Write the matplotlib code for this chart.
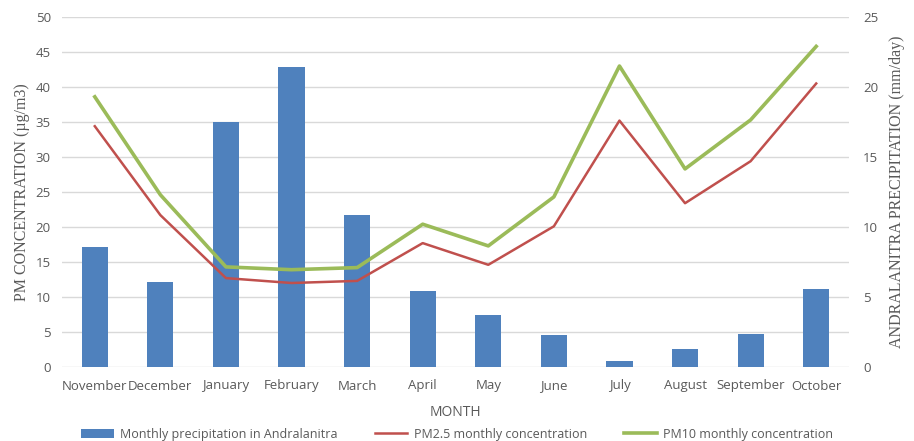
import numpy as np
import matplotlib
matplotlib.use('Agg')
from matplotlib import pyplot as plt

months = ['November', 'December', 'January', 'February', 'March', 'April',
          'May', 'June', 'July', 'August', 'September', 'October']
precip = [8.6, 6.05, 17.5, 21.45, 10.85, 5.4, 3.75, 2.3, 0.45, 1.29, 2.33, 5.55]
pm25 = [34.4, 21.7, 12.7, 12.0, 12.3, 17.7, 14.6, 20.1, 35.2, 23.4, 29.4, 40.5]
pm10 = [38.6, 24.6, 14.3, 13.9, 14.2, 20.4, 17.3, 24.3, 43.0, 28.3, 35.3, 45.8]

grey = '#595959'
sans = 'Open Sans'
serif = 'Liberation Serif'

fig = plt.figure(figsize=(9.14, 4.41), dpi=100)
ax = fig.add_axes([62/914, 1 - 367/441, (849 - 62)/914, 350/441])
ax2 = ax.twinx()

x = np.arange(len(months))

# bars belong to right axis, lines to left axis; draw bars under lines
ax2.bar(x, precip, width=0.4, color='#4F81BD', label='Monthly precipitation in Andralanitra', zorder=1)
ax2.set_ylim(0, 25)
ax2.set_yticks(range(0, 26, 5))

ax.set_zorder(ax2.get_zorder() + 1)
ax.patch.set_visible(False)
l1, = ax.plot(x, pm25, color='#C0504D', lw=1.8, label='PM2.5 monthly concentration')
l2, = ax.plot(x, pm10, color='#9BBB59', lw=2.6, label='PM10 monthly concentration')
ax.set_ylim(0, 50)
ax.set_yticks(range(0, 51, 5))
ax.set_xlim(-0.5, len(months) - 0.5)
ax.set_xticks(x)
ax.set_xticklabels(months)

# grid drawn on the back axis so bars stay above it
for v in np.arange(0, 25.01, 2.5):
    ax2.axhline(v, color='#D9D9D9', lw=1, zorder=0)

for a in (ax, ax2):
    for s in a.spines.values():
        s.set_visible(False)
    a.tick_params(length=0, colors=grey, labelsize=9.5)
    for t in a.get_xticklabels() + a.get_yticklabels():
        t.set_fontfamily(sans)

ax.tick_params(axis='x', pad=9)
ax.tick_params(axis='y', pad=8)
ax2.tick_params(axis='y', pad=10)

ax.set_ylabel('PM CONCENTRATION (µg/m3)', fontsize=11.5, family=serif, color=grey, labelpad=4)
ax2.set_ylabel('ANDRALANITRA PRECIPITATION (mm/day)', fontsize=11.5, family=serif, color=grey, labelpad=8)
ax.set_xlabel('MONTH', fontsize=10, family=sans, color=grey, labelpad=9)

bars = ax2.containers[0]
leg = fig.legend([bars, l1, l2], [bars.get_label(), l1.get_label(), l2.get_label()],
                 loc='lower center', bbox_to_anchor=(0.5, -0.025), ncol=3, frameon=False,
                 prop={'family': sans, 'size': 9}, handlelength=2.6, handletextpad=0.5,
                 columnspacing=3.0)
for t in leg.get_texts():
    t.set_color(grey)

fig.savefig('out.png', dpi=100)
